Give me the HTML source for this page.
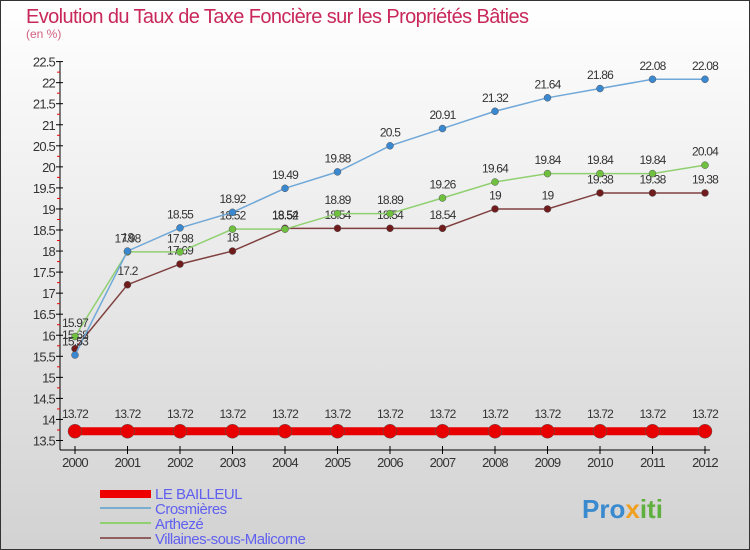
<!DOCTYPE html>
<html><head><meta charset="utf-8"><style>
body{margin:0;width:750px;height:550px;overflow:hidden;font-family:"Liberation Sans",sans-serif}
svg{display:block}
text{font-family:"Liberation Sans",sans-serif}
</style></head><body>
<svg width="750" height="550">
<defs><linearGradient id="bg" x1="0" y1="0" x2="0" y2="1"><stop offset="0" stop-color="#ffffff"/><stop offset="1" stop-color="#d2d2d2"/></linearGradient></defs>
<rect x="0.5" y="0.5" width="749" height="549" fill="url(#bg)" stroke="#333"/>
<text x="26" y="23" font-size="20" fill="#c8285a" letter-spacing="-0.6">Evolution du Taux de Taxe Foncière sur les Propriétés Bâties</text>
<text x="26" y="38" font-size="12" fill="#d26080">(en %)</text>
<g id="axes"></g>
<g id="series"></g>
<g>
<rect x="100" y="490" width="51" height="8" fill="#e00"/>
<text x="155" y="499" font-size="15" fill="#6060f0" letter-spacing="-0.5">LE BAILLEUL</text>
<rect x="100" y="507" width="51" height="2" fill="#7aaed0"/>
<text x="155" y="514" font-size="15" fill="#6060f0" letter-spacing="-0.5">Crosmières</text>
<rect x="100" y="522" width="51" height="2" fill="#90d070"/>
<text x="155" y="529" font-size="15" fill="#6060f0" letter-spacing="-0.5">Arthezé</text>
<rect x="100" y="537" width="51" height="2" fill="#906060"/>
<text x="155" y="544" font-size="15" fill="#6060f0" letter-spacing="-0.5">Villaines-sous-Malicorne</text>
</g>
<text x="582" y="518" font-size="26" font-weight="bold" fill="#3a8ad0">Pro<tspan fill="#f0a020">x</tspan><tspan fill="#60b040">iti</tspan></text>
</svg>
<script>
const years=[2000,2001,2002,2003,2004,2005,2006,2007,2008,2009,2010,2011,2012];
const yTicks=[13.5,14,14.5,15,15.5,16,16.5,17,17.5,18,18.5,19,19.5,20,20.5,21,21.5,22,22.5];
const leBailleul=[13.72,13.72,13.72,13.72,13.72,13.72,13.72,13.72,13.72,13.72,13.72,13.72,13.72];
const crosmieres=[15.53,18,18.55,18.92,19.49,19.88,20.5,20.91,21.32,21.64,21.86,22.08,22.08];
const artheze=[15.97,17.98,17.98,18.52,18.52,18.89,18.89,19.26,19.64,19.84,19.84,19.84,20.04];
const villaines=[15.68,17.2,17.69,18,18.54,18.54,18.54,18.54,19,19,19.38,19.38,19.38];
const NS="http://www.w3.org/2000/svg";
const xS=i=>75+i*52.5;
const yS=v=>440.5-(v-13.5)*42.1;
function mk(t,a,p){const e=document.createElementNS(NS,t);for(const k in a)e.setAttribute(k,a[k]);p.appendChild(e);return e;}
const ax=document.getElementById('axes');
const yl=mk('line',{x1:60,y1:yS(22.5),x2:60,y2:450,stroke:'#000'},ax);


const xl=mk('line',{x1:60,y1:450,x2:710,y2:450,stroke:'#000'},ax);


yTicks.forEach((v,i)=>{
  mk('line',{x1:56,y1:yS(v),x2:63,y2:yS(v),stroke:'#000'},ax);
  if(i<yTicks.length-1) mk('line',{x1:57,y1:yS(v+0.25),x2:60,y2:yS(v+0.25),stroke:'#e00'},ax);
  const t=mk('text',{x:55,y:yS(v)+5,'font-size':13,'text-anchor':'end',fill:'#333','letter-spacing':'-0.8'},ax);
  t.textContent=String(v);
  
  
});
years.forEach((y,i)=>{
  mk('line',{x1:xS(i),y1:446,x2:xS(i),y2:454,stroke:'#000'},ax);
  const t=mk('text',{x:xS(i),y:467,'font-size':13,'text-anchor':'middle',fill:'#333','letter-spacing':'-0.8'},ax);
  t.textContent=String(y);
  
  
});
const sg=document.getElementById('series');
function series(vals,color,dot,lw,r,name){
  const g=mk('g',{},sg);
  
  
  const pl=mk('polyline',{points:vals.map((v,i)=>xS(i)+','+yS(v)).join(' '),fill:'none',stroke:color,'stroke-width':lw},g);
  
  
  vals.forEach((v,i)=>{
    const c=mk('circle',{cx:xS(i),cy:yS(v),r:r,fill:dot,stroke:'#555','stroke-width':0.5},g);
    
    
    const t=mk('text',{x:xS(i),y:yS(v)-(r+6),'font-size':12,'text-anchor':'middle',fill:'#333','letter-spacing':'-0.8'},g);
    t.textContent=String(v);
    
    
  });
}
series(villaines,'#804040','#701c1c',1.5,3.5,'villaines');
series(artheze,'#90d070','#70c040',1.5,3.5,'artheze');
series(crosmieres,'#70a8d8','#3a88d0',1.5,3.5,'crosmieres');
series(leBailleul,'#e80000','#e80000',8,7,'le-bailleul');
</script>
</body></html>
